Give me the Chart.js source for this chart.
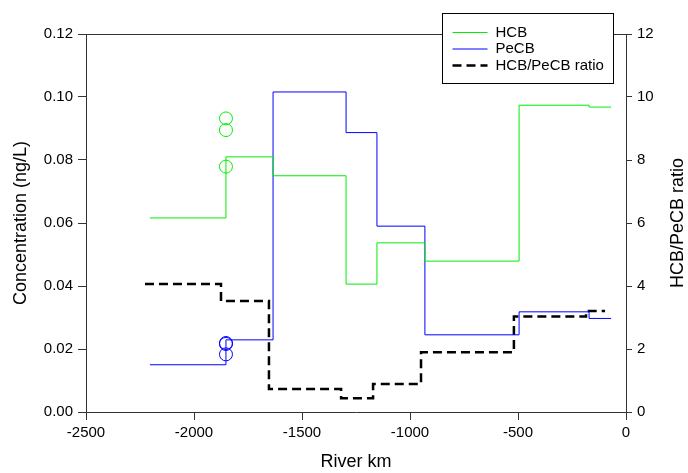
<!DOCTYPE html>
<html>
<head>
<meta charset="utf-8">
<script src="https://cdn.jsdelivr.net/npm/chart.js@4"></script>
<style>
  body { margin: 0; background: #fff; }
</style>
</head>
<body>
<canvas id="riverChart" width="688" height="473"></canvas>
<script>
// segment edges along the river (km) and the value held on each segment
const concKm = [-2204, -1852, -1634, -1296, -1153, -931, -495, -171, -69];
const hcbValues = [0.0616, 0.0810, 0.0750, 0.0406, 0.0537, 0.0479, 0.0974, 0.0968];
const pecbValues = [0.0150, 0.0229, 0.1016, 0.0887, 0.0590, 0.0245, 0.0318, 0.0297];

const ratioKm = [-2227, -1875, -1653, -1319, -1171, -949, -519, -185, -97];
const ratioValues = [4.06, 3.52, 0.73, 0.44, 0.89, 1.90, 3.03, 3.21];

// single samples (circles)
const sampleKm = -1852;
const hcbSamples = [0.0932, 0.0895, 0.0779];
const pecbSamples = [0.0219, 0.0216, 0.0183];

const FONT = "Arial, 'Liberation Sans', sans-serif";

// point at each edge, last value repeated to close the last step
function steps(km, vals) {
  const pts = vals.map((v, i) => ({ x: km[i], y: v }));
  pts.push({ x: km[km.length - 1], y: vals[vals.length - 1] });
  return pts;
}

const frameAndLegend = {
  id: 'frameAndLegend',
  beforeDatasetsDraw(chart) {
    const { ctx, chartArea } = chart;
    ctx.save();
    ctx.strokeStyle = '#333';
    ctx.lineWidth = 1;
    ctx.beginPath();
    ctx.moveTo(chartArea.left, chartArea.top + 0.5);
    ctx.lineTo(chartArea.right, chartArea.top + 0.5);
    ctx.stroke();
    ctx.restore();
  },
  afterDraw(chart) {
    const { ctx, chartArea } = chart;
    ctx.save();
    // legend box
    const bx = chartArea.right - 183.5, by = 13.5, bw = 171, bh = 70;
    ctx.fillStyle = '#fff';
    ctx.fillRect(bx, by, bw, bh);
    ctx.strokeStyle = '#000';
    ctx.lineWidth = 1;
    ctx.strokeRect(bx, by, bw, bh);

    const items = [
      { label: 'HCB', color: '#00ee00', width: 1, dash: [] },
      { label: 'PeCB', color: '#0000ff', width: 1, dash: [] },
      { label: 'HCB/PeCB ratio', color: '#000', width: 2.5, dash: [9, 5] }
    ];
    ctx.font = '15px ' + FONT;
    ctx.textBaseline = 'middle';
    items.forEach((it, i) => {
      const y = by + 19 + i * 16.5;
      ctx.strokeStyle = it.color;
      ctx.lineWidth = it.width;
      ctx.setLineDash(it.dash);
      ctx.beginPath();
      ctx.moveTo(bx + 10, y);
      ctx.lineTo(bx + 45, y);
      ctx.stroke();
      ctx.setLineDash([]);
      ctx.fillStyle = '#000';
      ctx.fillText(it.label, bx + 53, y);
    });

    // right axis title, reading bottom to top
    ctx.translate(678, (chartArea.top + chartArea.bottom) / 2);
    ctx.rotate(-Math.PI / 2);
    ctx.font = '18px ' + FONT;
    ctx.textAlign = 'center';
    ctx.textBaseline = 'middle';
    ctx.fillText('HCB/PeCB ratio', 0, 0);
    ctx.restore();
  }
};

new Chart(document.getElementById('riverChart'), {
  type: 'line',
  data: {
    datasets: [
      {
        label: 'HCB',
        data: steps(concKm, hcbValues),
        borderColor: '#00ee00',
        borderWidth: 1,
        stepped: 'before',
        pointRadius: 0,
        yAxisID: 'y'
      },
      {
        label: 'PeCB',
        data: steps(concKm, pecbValues),
        borderColor: '#0000ff',
        borderWidth: 1,
        stepped: 'before',
        pointRadius: 0,
        yAxisID: 'y'
      },
      {
        label: 'HCB/PeCB ratio',
        data: steps(ratioKm, ratioValues),
        borderColor: '#000',
        borderWidth: 2.5,
        borderDash: [9, 5],
        stepped: 'before',
        pointRadius: 0,
        yAxisID: 'y2'
      },
      {
        label: 'HCB samples',
        data: hcbSamples.map((v) => ({ x: sampleKm, y: v })),
        showLine: false,
        pointRadius: 6.5,
        pointBorderWidth: 1,
        pointBorderColor: '#00ee00',
        pointBackgroundColor: 'rgba(0,0,0,0)',
        yAxisID: 'y'
      },
      {
        label: 'PeCB samples',
        data: pecbSamples.map((v) => ({ x: sampleKm, y: v })),
        showLine: false,
        pointRadius: 6.5,
        pointBorderWidth: 1,
        pointBorderColor: '#0000ff',
        pointBackgroundColor: 'rgba(0,0,0,0)',
        yAxisID: 'y'
      }
    ]
  },
  options: {
    responsive: false,
    animation: false,
    devicePixelRatio: 1,
    layout: { padding: { top: 34, left: 0, right: 0, bottom: 0 } },
    plugins: {
      legend: { display: false },
      tooltip: { enabled: false }
    },
    scales: {
      x: {
        type: 'linear',
        min: -2500,
        max: 0,
        afterFit: (s) => { s.height = 61; },
        ticks: {
          stepSize: 500,
          color: '#000',
          padding: 4,
          font: { family: FONT, size: 15 },
          maxRotation: 0,
          callback: (v) => String(v)
        },
        grid: { drawOnChartArea: false, tickLength: 8, color: '#333' },
        border: { color: '#333', width: 1 },
        title: {
          display: true,
          text: 'River km',
          color: '#000',
          padding: 0,
          font: { family: FONT, size: 18 }
        }
      },
      y: {
        position: 'left',
        min: 0,
        max: 0.12,
        afterFit: (s) => { s.width = 86; },
        ticks: {
          stepSize: 0.02,
          color: '#000',
          padding: 5,
          font: { family: FONT, size: 15 },
          callback: (v) => v.toFixed(2)
        },
        grid: { drawOnChartArea: false, tickLength: 8, color: '#333' },
        border: { color: '#333', width: 1 },
        title: {
          display: true,
          text: 'Concentration (ng/L)',
          color: '#000',
          padding: { top: 10, bottom: 0 },
          font: { family: FONT, size: 18 }
        }
      },
      y2: {
        position: 'right',
        min: 0,
        max: 12,
        afterFit: (s) => { s.width = 62; },
        ticks: {
          stepSize: 2,
          color: '#000',
          padding: 5,
          font: { family: FONT, size: 15 }
        },
        grid: { drawOnChartArea: false, tickLength: 6, color: '#333' },
        border: { color: '#333', width: 1 }
      }
    }
  },
  plugins: [frameAndLegend]
});
</script>
</body>
</html>
